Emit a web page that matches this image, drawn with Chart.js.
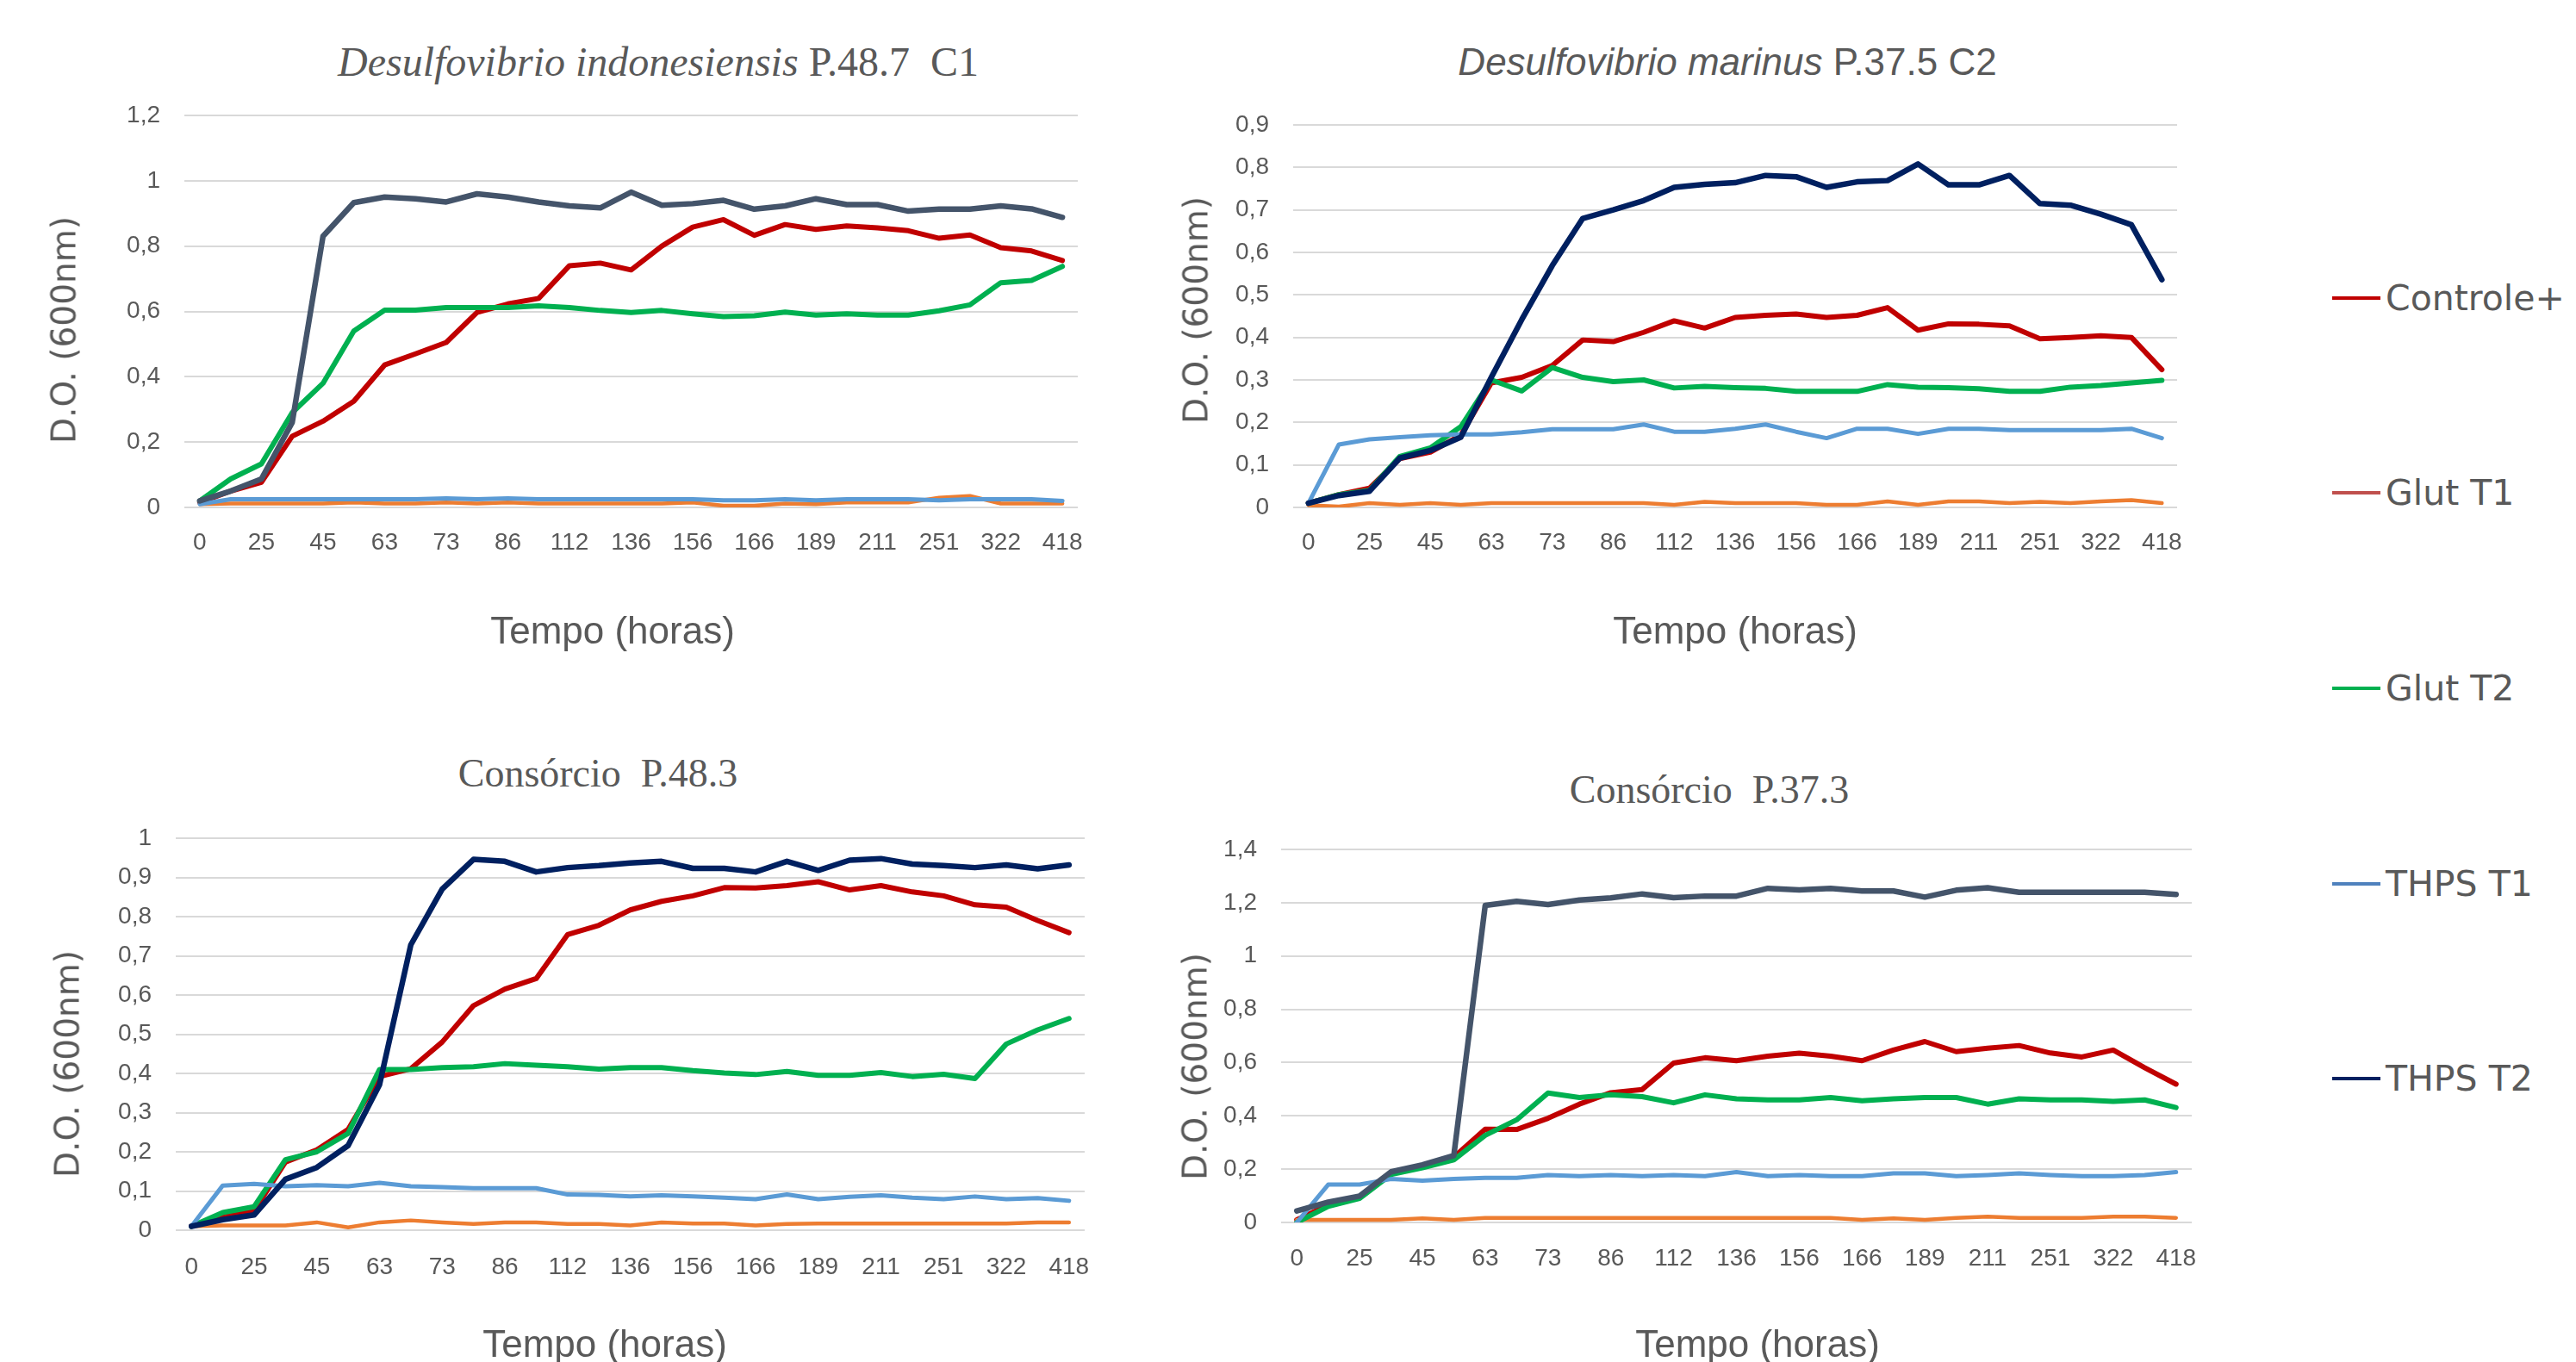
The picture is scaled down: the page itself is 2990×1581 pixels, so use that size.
<!DOCTYPE html>
<html>
<head>
<meta charset="utf-8">
<script src="https://cdn.jsdelivr.net/npm/chart.js@4.4.1/dist/chart.umd.min.js"></script>
<style>
  html, body { margin: 0; padding: 0; background: #fff; overflow: hidden; }
  body { width: 2990px; height: 1581px; position: relative; }
  canvas { position: absolute; }
  .titulo { position: absolute; transform: translate(-50%, -50%); white-space: nowrap; color: #595959; line-height: 1; }
  .serif { font-family: "Liberation Serif", "DejaVu Serif", serif; font-size: 46px; }
  .sans { font-family: "Liberation Sans", Arial, sans-serif; font-size: 44px; }
  .eixoY { position: absolute; transform: translate(-50%, -50%) rotate(-90deg); white-space: nowrap;
           font-family: "DejaVu Sans", sans-serif; font-size: 39px; color: #595959; line-height: 1; }
  .leg { position: absolute; left: 2707px; height: 50px; transform: translateY(-50%); display: flex; align-items: center; }
  .leg span.linha { display: inline-block; width: 56px; height: 4px; }
  .leg span.txt { margin-left: 6px; font-family: "DejaVu Sans", sans-serif; font-size: 41px; color: #595959; }
</style>
</head>
<body>
<canvas id="c1"></canvas>
<canvas id="c2"></canvas>
<canvas id="c3"></canvas>
<canvas id="c4"></canvas>

<div class="titulo serif" style="left:764px; top:72px; font-size:48px;"><i>Desulfovibrio indonesiensis</i> P.48.7&nbsp; C1</div>
<div class="titulo sans" style="left:2005px; top:72px;"><i>Desulfovibrio marinus</i> P.37.5 C2</div>
<div class="titulo serif" style="left:694px; top:898px;">Consórcio&nbsp; P.48.3</div>
<div class="titulo serif" style="left:1984px; top:917px;">Consórcio&nbsp; P.37.3</div>

<div class="eixoY" style="left:74px; top:383px;">D.O. (600nm)</div>
<div class="eixoY" style="left:1388px; top:360px;">D.O. (600nm)</div>
<div class="eixoY" style="left:78px; top:1235px;">D.O. (600nm)</div>
<div class="eixoY" style="left:1387px; top:1238px;">D.O. (600nm)</div>

<div class="titulo sans" style="left:711px; top:732px;">Tempo (horas)</div>
<div class="titulo sans" style="left:2014px; top:732px;">Tempo (horas)</div>
<div class="titulo sans" style="left:702px; top:1560px;">Tempo (horas)</div>
<div class="titulo sans" style="left:2040px; top:1560px;">Tempo (horas)</div>

<div id="legenda"></div>

<script>
// --- Data ---
const horas = ['0', '', '25', '', '45', '', '63', '', '73', '', '86', '', '112', '', '136', '', '156', '', '166', '', '189', '', '211', '', '251', '', '322', '', '418'];
const series = ['Controle+', 'Glut T1', 'Glut T2', 'THPS T1', 'THPS T2'];

// Desulfovibrio indonesiensis P.48.7 C1
const p1Controle = [0.015, 0.05, 0.077, 0.218, 0.264, 0.325, 0.436, 0.47, 0.505, 0.597, 0.623, 0.64, 0.74, 0.748, 0.727, 0.8, 0.858, 0.881, 0.833, 0.866, 0.851, 0.862, 0.856, 0.847, 0.824, 0.834, 0.795, 0.785, 0.756];
const p1GlutT1 = [0.01, 0.012, 0.012, 0.012, 0.012, 0.015, 0.012, 0.012, 0.015, 0.012, 0.015, 0.012, 0.012, 0.012, 0.012, 0.012, 0.015, 0.005, 0.005, 0.012, 0.01, 0.015, 0.015, 0.015, 0.03, 0.035, 0.012, 0.012, 0.012];
const p1GlutT2 = [0.02, 0.087, 0.133, 0.29, 0.38, 0.54, 0.604, 0.604, 0.612, 0.612, 0.612, 0.617, 0.612, 0.603, 0.597, 0.603, 0.593, 0.584, 0.587, 0.598, 0.589, 0.593, 0.589, 0.589, 0.602, 0.62, 0.688, 0.695, 0.738];
const p1ThpsT1 = [0.01, 0.025, 0.025, 0.025, 0.025, 0.025, 0.025, 0.025, 0.028, 0.025, 0.028, 0.025, 0.025, 0.025, 0.025, 0.025, 0.025, 0.022, 0.022, 0.025, 0.022, 0.025, 0.025, 0.025, 0.022, 0.025, 0.025, 0.025, 0.02];
const p1ThpsT2 = [0.02, 0.05, 0.087, 0.26, 0.83, 0.933, 0.95, 0.945, 0.935, 0.96, 0.95, 0.935, 0.923, 0.917, 0.965, 0.925, 0.93, 0.94, 0.913, 0.923, 0.945, 0.927, 0.927, 0.907, 0.913, 0.913, 0.923, 0.914, 0.888];

// Desulfovibrio marinus P.37.5 C2
const p2Controle = [0.01, 0.03, 0.045, 0.115, 0.13, 0.17, 0.293, 0.306, 0.334, 0.394, 0.39, 0.412, 0.439, 0.422, 0.447, 0.452, 0.455, 0.447, 0.452, 0.47, 0.417, 0.432, 0.431, 0.427, 0.397, 0.4, 0.404, 0.4, 0.324];
const p2GlutT1 = [0.005, 0.002, 0.01, 0.006, 0.01, 0.006, 0.01, 0.01, 0.01, 0.01, 0.01, 0.01, 0.006, 0.013, 0.01, 0.01, 0.01, 0.006, 0.006, 0.014, 0.006, 0.014, 0.014, 0.01, 0.013, 0.01, 0.014, 0.017, 0.01];
const p2GlutT2 = [0.01, 0.03, 0.04, 0.12, 0.14, 0.19, 0.3, 0.274, 0.329, 0.306, 0.296, 0.3, 0.281, 0.285, 0.282, 0.28, 0.273, 0.273, 0.273, 0.289, 0.283, 0.282, 0.279, 0.273, 0.273, 0.283, 0.287, 0.293, 0.299];
const p2ThpsT1 = [0.01, 0.148, 0.16, 0.165, 0.17, 0.172, 0.172, 0.177, 0.184, 0.184, 0.184, 0.195, 0.178, 0.178, 0.185, 0.195, 0.178, 0.163, 0.185, 0.185, 0.173, 0.185, 0.185, 0.182, 0.182, 0.182, 0.182, 0.185, 0.163];
const p2ThpsT2 = [0.01, 0.028, 0.038, 0.116, 0.134, 0.165, 0.306, 0.442, 0.569, 0.68, 0.7, 0.722, 0.753, 0.76, 0.764, 0.781, 0.778, 0.753, 0.766, 0.769, 0.808, 0.759, 0.759, 0.781, 0.715, 0.711, 0.69, 0.665, 0.536];

// Consórcio P.48.3
const p3Controle = [0.01, 0.035, 0.05, 0.174, 0.205, 0.257, 0.392, 0.412, 0.48, 0.573, 0.615, 0.642, 0.754, 0.778, 0.817, 0.839, 0.853, 0.874, 0.873, 0.879, 0.889, 0.868, 0.879, 0.863, 0.853, 0.83, 0.824, 0.79, 0.759];
const p3GlutT1 = [0.01, 0.012, 0.012, 0.012, 0.02, 0.007, 0.02, 0.025, 0.02, 0.016, 0.02, 0.02, 0.016, 0.016, 0.012, 0.02, 0.017, 0.017, 0.012, 0.016, 0.017, 0.017, 0.017, 0.017, 0.017, 0.017, 0.017, 0.02, 0.02];
const p3GlutT2 = [0.01, 0.045, 0.06, 0.18, 0.2, 0.247, 0.41, 0.41, 0.415, 0.417, 0.425, 0.421, 0.417, 0.411, 0.415, 0.415, 0.407, 0.401, 0.397, 0.405, 0.395, 0.395, 0.402, 0.392, 0.398, 0.387, 0.475, 0.511, 0.54];
const p3ThpsT1 = [0.01, 0.114, 0.118, 0.112, 0.115, 0.112, 0.121, 0.112, 0.11, 0.107, 0.107, 0.107, 0.091, 0.09, 0.086, 0.089, 0.086, 0.083, 0.079, 0.091, 0.079, 0.085, 0.089, 0.083, 0.079, 0.086, 0.079, 0.082, 0.075];
const p3ThpsT2 = [0.01, 0.027, 0.039, 0.13, 0.16, 0.216, 0.371, 0.728, 0.87, 0.946, 0.941, 0.914, 0.925, 0.93, 0.937, 0.941, 0.923, 0.923, 0.914, 0.941, 0.918, 0.944, 0.948, 0.934, 0.93, 0.925, 0.932, 0.922, 0.932];

// Consórcio P.37.3
const p4Controle = [0.01, 0.065, 0.095, 0.185, 0.21, 0.245, 0.35, 0.349, 0.391, 0.444, 0.487, 0.499, 0.598, 0.618, 0.607, 0.624, 0.635, 0.624, 0.607, 0.647, 0.679, 0.641, 0.654, 0.664, 0.636, 0.621, 0.647, 0.581, 0.519];
const p4GlutT1 = [0.01, 0.01, 0.01, 0.01, 0.015, 0.01, 0.017, 0.017, 0.017, 0.017, 0.017, 0.017, 0.017, 0.017, 0.017, 0.017, 0.017, 0.017, 0.01, 0.015, 0.01, 0.017, 0.022, 0.017, 0.017, 0.017, 0.022, 0.022, 0.017];
const p4GlutT2 = [0.0, 0.06, 0.09, 0.18, 0.205, 0.235, 0.327, 0.385, 0.486, 0.469, 0.479, 0.472, 0.449, 0.479, 0.464, 0.46, 0.46, 0.469, 0.457, 0.464, 0.469, 0.469, 0.444, 0.464, 0.46, 0.46, 0.454, 0.46, 0.431];
const p4ThpsT1 = [0.0, 0.142, 0.142, 0.163, 0.157, 0.163, 0.167, 0.167, 0.178, 0.174, 0.178, 0.174, 0.178, 0.174, 0.189, 0.174, 0.178, 0.174, 0.174, 0.184, 0.184, 0.174, 0.178, 0.184, 0.178, 0.174, 0.174, 0.178, 0.189];
const p4ThpsT2 = [0.043, 0.076, 0.099, 0.19, 0.216, 0.251, 1.19, 1.205, 1.193, 1.21, 1.218, 1.233, 1.219, 1.225, 1.225, 1.254, 1.248, 1.254, 1.244, 1.244, 1.221, 1.247, 1.256, 1.239, 1.239, 1.239, 1.239, 1.239, 1.231];

// --- Styles ---
const coresLinha = ['#C00000', '#ED7D31', '#00B050', '#5B9BD5', '#002060'];
const coresLegenda = ['#C00000', '#C0504D', '#00B050', '#4F81BD', '#002060'];
const larguras = [6, 4.5, 6, 5, 6.5];
const cinza = '#595959';

// box = canvas placement; yW / xH = fixed axis sizes so the plot area lands where it should
const paineis = [
  { id: 'c1', dados: [p1Controle, p1GlutT1, p1GlutT2, p1ThpsT1, p1ThpsT2], max: 1.2, passo: 0.2, escuro: '#44546A',
    box: { l: 49, t: 104, w: 1212, h: 659 }, yW: 165, xH: 174, tickPad: 24 },
  { id: 'c2', dados: [p2Controle, p2GlutT1, p2GlutT2, p2ThpsT1, p2ThpsT2], max: 0.9, passo: 0.1, escuro: '#002060',
    box: { l: 1365, t: 115, w: 1172, h: 648 }, yW: 136, xH: 174, tickPad: 24 },
  { id: 'c3', dados: [p3Controle, p3GlutT1, p3GlutT2, p3ThpsT1, p3ThpsT2], max: 1, passo: 0.1, escuro: '#002060',
    box: { l: 53, t: 943, w: 1216, h: 647 }, yW: 151, xH: 162, tickPad: 26 },
  { id: 'c4', dados: [p4Controle, p4GlutT1, p4GlutT2, p4ThpsT1, p4ThpsT2], max: 1.4, passo: 0.2, escuro: '#44546A',
    box: { l: 1363, t: 956, w: 1191, h: 634 }, yW: 124, xH: 171, tickPad: 25 }
];

// --- Number format with comma ---
function virgula(v) {
  return String(Number(v.toFixed(2))).replace('.', ',');
}

// --- Chart setup ---
function criaPainel(p) {
  const canvas = document.getElementById(p.id);
  canvas.width = p.box.w;
  canvas.height = p.box.h;
  canvas.style.left = p.box.l + 'px';
  canvas.style.top = p.box.t + 'px';

  const datasets = series.map((nome, i) => ({
    label: nome,
    data: p.dados[i],
    borderColor: i === 4 ? p.escuro : coresLinha[i],
    borderWidth: larguras[i],
    pointRadius: 0,
    tension: 0,
    fill: false,
    borderJoinStyle: 'round',
    borderCapStyle: 'round',
    order: 4 - i
  }));

  new Chart(canvas.getContext('2d'), {
    type: 'line',
    data: { labels: horas, datasets },
    options: {
      responsive: false,
      animation: false,
      events: [],
      layout: { padding: { top: 30, right: 10, left: 0, bottom: 0 } },
      plugins: { legend: { display: false }, tooltip: { enabled: false } },
      scales: {
        x: {
          type: 'category',
          offset: true,
          // invisible tick marks give the gap under the plot (ticks.padding would also pad the right side)
          grid: { display: true, drawOnChartArea: false, drawTicks: true, tickLength: p.tickPad, tickColor: 'rgba(0,0,0,0)', color: 'rgba(0,0,0,0)' },
          border: { display: false },
          ticks: {
            autoSkip: false,
            maxRotation: 0,
            padding: 0,
            color: cinza,
            font: { family: 'Liberation Sans', size: 28 }
          },
          afterFit: s => { s.height = p.xH; }
        },
        y: {
          min: 0,
          max: p.max,
          grid: { color: '#D9D9D9', lineWidth: 2, drawTicks: true, tickLength: 28, tickColor: 'rgba(0,0,0,0)' },
          border: { display: false },
          ticks: {
            stepSize: p.passo,
            padding: 0,
            color: cinza,
            font: { family: 'Liberation Sans', size: 28 },
            callback: v => virgula(v)
          },
          afterFit: s => { s.width = p.yW; }
        }
      }
    }
  });
}

paineis.forEach(criaPainel);

// --- Legend ---
const legendaY = [346, 572, 799, 1026, 1252];
const leg = document.getElementById('legenda');
series.forEach((nome, i) => {
  const d = document.createElement('div');
  d.className = 'leg';
  d.style.top = legendaY[i] + 'px';
  d.innerHTML = '<span class="linha" style="background:' + coresLegenda[i] + '"></span><span class="txt">' + nome + '</span>';
  leg.appendChild(d);
});
</script>
</body>
</html>
